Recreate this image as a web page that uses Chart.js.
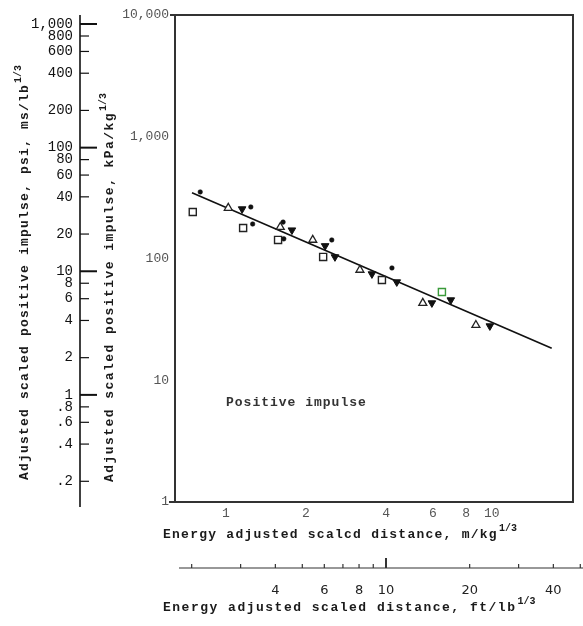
<!DOCTYPE html>
<html>
<head>
<meta charset="utf-8">
<script src="https://cdn.jsdelivr.net/npm/chart.js@4.4.1/dist/chart.umd.min.js"></script>
<style>
  html, body { margin: 0; padding: 0; background: #fff; }
</style>
</head>
<body>
<canvas id="impulseChart" width="583" height="626"></canvas>
<script>
// ==========================================
// data
// x = m/kg^1/3, y = kPa-ms/kg^1/3
// ==========================================
const squareX = [0.75, 1.16, 1.57, 2.32, 3.86, 6.49];
const squareY = [241, 178, 142, 103, 66.6, 53.1];
const squareColor = ["#222", "#222", "#222", "#222", "#222", "#3a9a3a"];

const triUpX = [1.02, 1.60, 2.12, 3.19, 5.50, 8.71];
const triUpY = [260, 181, 142, 80.5, 43.1, 28.4];

const triDownX = [1.15, 1.77, 2.36, 2.57, 3.54, 4.39, 5.95, 7.01, 9.83];
const triDownY = [255, 171, 127, 103, 74.6, 64.1, 43.1, 45.6, 27.9];

const dotX = [0.80, 1.24, 1.26, 1.64, 1.65, 2.50, 4.21];
const dotY = [352, 265, 192, 199, 145, 142, 83.6];

// fitted curve, two ends
const fitX = [0.745, 16.8];
const fitY = [347, 18.3];

// tick labels
const distTicksM = [1, 2, 4, 6, 8, 10];
const distTicksFt = [4, 6, 8, 10, 20, 40];
const distMarksFt = [2, 3, 4, 5, 6, 7, 8, 9, 10, 20, 30, 40, 50];
const impTicksKpa = [1, 10, 100, 1000, 10000];
const impTicksPsi = [0.2, 0.4, 0.6, 0.8, 1, 2, 4, 6, 8, 10, 20, 40, 60, 80, 100, 200, 400, 600, 800, 1000];

const mono = "'Liberation Mono', 'DejaVu Sans Mono', monospace";

function toPoints(xs, ys) {
  return xs.map((x, i) => ({ x: x, y: ys[i] }));
}

// 1000 -> "1,000", 0.2 -> ".2"
function fmtNum(v) {
  if (v < 1) return String(v).replace(/^0/, "");
  return v.toLocaleString("en-US");
}

function fixTicks(list) {
  return (scale) => { scale.ticks = list.map(v => ({ value: v })); };
}

// fixed box size, no extra label padding
function fixBox(w, h) {
  return (s) => {
    if (w !== null) s.width = w;
    if (h !== null) s.height = h;
    s.paddingLeft = 0; s.paddingRight = 0; s.paddingTop = 0; s.paddingBottom = 0;
  };
}

// ==========================================
// extra drawing: frame, psi axis, ft axis, titles
// ==========================================
function textWithSup(ctx, text, sup, x, y, spacing) {
  ctx.font = "bold 13px " + mono;
  ctx.letterSpacing = spacing + "px";
  ctx.fillText(text, x, y);
  const w = ctx.measureText(text).width;
  ctx.font = "bold 10px " + mono;
  ctx.letterSpacing = "0px";
  ctx.fillText(sup, x + w + 1, y - 7);
}

const paperAxes = {
  id: "paperAxes",
  afterDraw(chart) {
    const ctx = chart.ctx;
    const a = chart.chartArea;
    const sx = chart.scales.x, sy = chart.scales.y;
    const sx2 = chart.scales.x2, sy2 = chart.scales.y2;
    ctx.save();

    // plot frame
    ctx.strokeStyle = "#333";
    ctx.lineWidth = 2;
    ctx.strokeRect(a.left, a.top, a.right - a.left, a.bottom - a.top);
    ctx.beginPath();
    ctx.moveTo(a.left - 5, a.top); ctx.lineTo(a.left, a.top);
    ctx.moveTo(a.left - 6, a.bottom); ctx.lineTo(a.left, a.bottom);
    ctx.stroke();

    // psi axis, ticks to the right
    const px = sy2.right;
    ctx.strokeStyle = "#111";
    ctx.lineWidth = 1.6;
    ctx.beginPath();
    ctx.moveTo(px, a.top); ctx.lineTo(px, a.bottom + 5);
    ctx.stroke();
    impTicksPsi.forEach(v => {
      const py = sy2.getPixelForValue(v);
      const major = Math.abs(Math.log10(v) - Math.round(Math.log10(v))) < 1e-6;
      ctx.lineWidth = major ? 2 : 1.2;
      ctx.beginPath();
      ctx.moveTo(px, py); ctx.lineTo(px + (major ? 17 : 9), py);
      ctx.stroke();
    });

    // ft axis, ticks upward
    const ly = sx2.top + 16;
    ctx.strokeStyle = "#333";
    ctx.lineWidth = 1.1;
    ctx.beginPath();
    ctx.moveTo(sx2.getPixelForValue(1.8), ly); ctx.lineTo(chart.width, ly);
    ctx.stroke();
    distMarksFt.forEach(v => {
      const tx = sx2.getPixelForValue(v);
      const h = v === 10 ? 10 : 4;
      ctx.lineWidth = v === 10 ? 2 : 1.2;
      ctx.beginPath();
      ctx.moveTo(tx, ly); ctx.lineTo(tx, ly - h);
      ctx.stroke();
    });

    // titles
    ctx.fillStyle = "#1a1a1a";
    ctx.textAlign = "left";
    ctx.textBaseline = "middle";
    textWithSup(ctx, "Energy adjusted scalcd distance, m/kg", "1/3", a.left - 12, sx.top + 33, 1.25);
    textWithSup(ctx, "Energy adjusted scaled distance, ft/lb", "1/3", a.left - 12, sx2.top + 56, 1.5);

    ctx.save();
    ctx.translate(sy2.left + 25, a.bottom - 22);
    ctx.rotate(-Math.PI / 2);
    textWithSup(ctx, "Adjusted scaled positive impulse, psi, ms/lb", "1/3", 0, 0, 1.2);
    ctx.restore();

    ctx.save();
    ctx.translate(sy.left + 30, a.bottom - 20);
    ctx.rotate(-Math.PI / 2);
    textWithSup(ctx, "Adjusted scaled positive impulse, kPa/kg", "1/3", 0, 0, 1.45);
    ctx.restore();

    // in-plot label
    ctx.fillStyle = "#333";
    ctx.font = "bold 13px " + mono;
    ctx.letterSpacing = "1px";
    ctx.fillText("Positive impulse", sx.getPixelForValue(1.0), sy.getPixelForValue(6.5));
    ctx.letterSpacing = "0px";

    ctx.restore();
  }
};

// ==========================================
// chart
// ==========================================
const markerBase = { showLine: false, xAxisID: "x", yAxisID: "y" };

new Chart(document.getElementById("impulseChart").getContext("2d"), {
  type: "scatter",
  data: {
    datasets: [
      Object.assign({ label: "squares", data: toPoints(squareX, squareY), pointStyle: "rect", pointRadius: 5,
        pointBorderColor: squareColor, pointBackgroundColor: "#fff", pointBorderWidth: 1.4 }, markerBase),
      Object.assign({ label: "triangles", data: toPoints(triUpX, triUpY), pointStyle: "triangle", pointRadius: 4.6,
        pointBorderColor: "#222", pointBackgroundColor: "#fff", pointBorderWidth: 1.3 }, markerBase),
      Object.assign({ label: "inverted", data: toPoints(triDownX, triDownY), pointStyle: "triangle", pointRotation: 180,
        pointRadius: 4.4, pointBorderColor: "#111", pointBackgroundColor: "#111", pointBorderWidth: 1 }, markerBase),
      Object.assign({ label: "dots", data: toPoints(dotX, dotY), pointStyle: "circle", pointRadius: 2.3,
        pointBorderColor: "#111", pointBackgroundColor: "#111", pointBorderWidth: 0.5 }, markerBase),
      { label: "fit", type: "line", data: toPoints(fitX, fitY), borderColor: "#111", borderWidth: 1.6,
        pointRadius: 0, fill: false, xAxisID: "x", yAxisID: "y" }
    ]
  },
  options: {
    responsive: false,
    animation: false,
    events: [],
    layout: { padding: { top: 15, right: 10, left: 0, bottom: 0 } },
    plugins: { legend: { display: false }, tooltip: { enabled: false } },
    scales: {
      x: {
        type: "logarithmic", position: "bottom", min: 0.643, max: 20.2, bounds: "data",
        grid: { display: false, drawTicks: false }, border: { display: false },
        afterBuildTicks: fixTicks(distTicksM),
        afterFit: fixBox(null, 50),
        ticks: { autoSkip: false, maxRotation: 0, padding: 4, color: "#555",
          font: { family: mono, size: 13 }, callback: (v) => String(v) }
      },
      x2: {
        type: "logarithmic", position: "bottom", min: 1.742, max: 47.07, bounds: "data",
        grid: { display: false, drawTicks: false }, border: { display: false },
        afterBuildTicks: fixTicks(distTicksFt),
        afterFit: fixBox(null, 74),
        ticks: { autoSkip: false, maxRotation: 0, padding: 31, color: "#222",
          font: { family: "'DejaVu Sans', sans-serif", size: 13 }, callback: (v) => String(v) }
      },
      y: {
        type: "logarithmic", position: "left", min: 1, max: 10000, bounds: "data",
        grid: { display: false, drawTicks: false }, border: { display: false },
        afterBuildTicks: fixTicks(impTicksKpa),
        afterFit: fixBox(95, null),
        ticks: { autoSkip: false, padding: 6, color: "#555",
          font: { family: mono, size: 13 }, callback: (v) => fmtNum(v) }
      },
      y2: {
        type: "logarithmic", position: "left", min: 0.136, max: 1183, bounds: "data",
        grid: { display: false, drawTicks: false }, border: { display: false },
        afterBuildTicks: fixTicks(impTicksPsi),
        afterFit: fixBox(80, null),
        ticks: { autoSkip: false, padding: 7, color: "#111",
          font: { family: mono, size: 14 }, callback: (v) => fmtNum(v) }
      }
    }
  },
  plugins: [paperAxes]
});
</script>
</body>
</html>
